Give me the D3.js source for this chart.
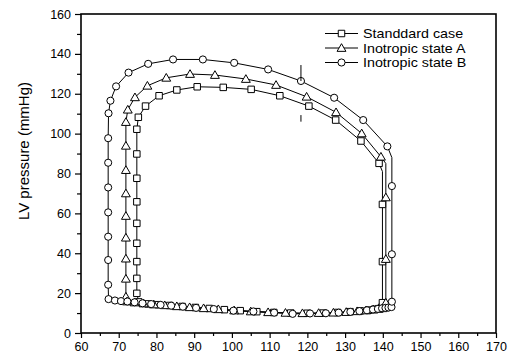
<!DOCTYPE html>
<html><head><meta charset="utf-8">
<script src="https://cdn.jsdelivr.net/npm/d3@7"></script>
<style>
body{margin:0;background:#fff;}
svg{display:block;font-family:"Liberation Sans",Arial,Helvetica,sans-serif;}
</style></head>
<body><svg id="c" width="513" height="363"></svg>
<script>
// ---- data ----
const seriesNames = ["Standdard case", "Inotropic state A", "Inotropic state B"];
const xTicks = [60,70,80,90,100,110,120,130,140,150,160,170];
const yTicks = [0,20,40,60,80,100,120,140,160];
const yLabel = "LV pressure (mmHg)";

// Standard case (squares); mark: 1 = marker drawn, 0 = path vertex only
const stdV = [74.8,75.3,77.8,80.5,83.5,86.8,90.3,94,98,102.2,106.6,111.1,115.6,120,124.2,128,131.3,134,136.2,137.8,138.9,139.6,139.9,139.9,139.9,139.9,139.9,139,134.2,127.5,120.4,112.7,105.1,97.7,90.8,85.4,80.7,77.1,75.2,74.8,74.8,74.8,74.8,74.8,74.8,74.8,74.8];
const stdP = [19.9,15.6,14.6,14.2,13.8,13.3,12.8,12.3,11.7,11.2,10.7,10.3,10,9.9,10,10.3,10.7,11.1,11.5,11.9,12.2,12.5,13.2,15.2,35.8,64.5,81,85.1,96.3,106.8,113.8,119,122.2,123.2,123.5,121.9,119,113.8,108.2,102.2,89.8,77.6,65.8,55,45,35.8,27.4];
const stdM = [1,1,1,1,1,1,1,1,1,1,1,1,1,1,1,1,1,1,1,1,1,1,1,1,1,1,0,1,1,1,1,1,1,1,1,1,1,1,1,1,1,1,1,1,1,1,1];

// Inotropic state A (triangles)
const aV = [71.9,72.2,74.2,76.6,79.3,82.2,85.4,88.8,92.5,96.4,100.6,105,109.6,114.2,118.7,123,126.9,130.3,133.2,135.6,137.5,138.9,139.9,140.6,140.8,140.8,140.8,140.8,139.5,134.4,127.6,119.8,111.7,103.7,95.5,88.9,82.6,77.6,74.3,72.4,71.9,71.9,71.9,71.9,71.9,71.9,71.9,71.9];
const aP = [18.2,15.8,15.3,14.8,14.3,13.9,13.4,12.9,12.4,11.9,11.3,10.8,10.4,10.1,9.9,10,10.2,10.5,10.9,11.3,11.7,12.1,12.4,12.8,15.2,37.1,68,85,88.4,100.1,110.7,118.5,124.4,127.4,129.4,129.9,128,124,118.2,112,105.8,93.9,81.7,70,58.7,47.8,37.3,27.2];
const aM = [1,1,1,1,1,1,1,1,1,1,1,1,1,1,1,1,1,1,1,1,1,1,1,1,1,1,1,0,1,1,1,1,1,1,1,1,1,1,1,1,1,1,1,1,1,1,1,1];

// Inotropic state B (circles)
const bV = [67.3,69,70.6,72.3,74.2,76.3,78.6,81.1,83.9,87,90.5,95.2,100.4,105.7,111.2,116.1,120.7,124.9,128.3,131.4,133.8,135.8,137.4,138.7,139.8,140.7,141.5,142.3,142.4,142.4,142.4,142.4,141.2,134.8,127.1,118.3,109.6,100.6,92.3,84.4,77.8,72.6,69.3,67.8,67.3,67.2,67.2,67.2,67.2,67.2,67.2,67.2];
const bP = [17,16.3,16,15.8,15.4,14.9,14.5,14.1,13.7,13.2,12.6,12,11.2,10.8,10.2,9.6,9.8,9.9,10.2,10.6,11,11.4,11.8,12.1,12.4,12.6,12.8,13,15.7,39.5,73.7,88,93.6,106.8,118,126.4,132.2,135.5,137.2,137.2,135,130.6,123.7,116.5,110.2,97.7,85.4,73,60.5,48.3,36.6,24.2];
const bM = [1,1,1,1,1,1,1,1,1,1,1,1,1,1,1,1,1,1,1,1,1,1,1,1,1,1,1,1,1,1,1,0,1,1,1,1,1,1,1,1,1,1,1,1,1,1,1,1,1,1,1,1];

// short vertical marks seen in the figure (volume, pressure from, pressure to)
const markV = [118.3, 118.3];
const markP0 = [126.4, 106.0];
const markP1 = [134.4, 109.3];

// ---- drawing ----
const svg = d3.select("#c");
const x = d3.scaleLinear().domain([60,170]).range([81,496]);
const y = d3.scaleLinear().domain([0,160]).range([333,14]);

const build = (V,P,M) => V.map((v,i)=>({v, p:P[i], m:M[i]}));
const series = [
  {name:seriesNames[0], shape:"square", pts:build(stdV,stdP,stdM)},
  {name:seriesNames[1], shape:"triangle", pts:build(aV,aP,aM)},
  {name:seriesNames[2], shape:"circle", pts:build(bV,bP,bM)}
];

// axes
const minorX = d3.range(65,170,10);
const minorY = d3.range(10,160,20);
svg.append("g").attr("transform","translate(0,333)")
  .call(d3.axisBottom(x).tickValues(xTicks).tickSize(5).tickPadding(4).tickFormat(d3.format("d")));
svg.append("g").attr("transform","translate(0,333)")
  .call(d3.axisBottom(x).tickValues(minorX).tickSize(3).tickFormat(""));
svg.append("g").attr("transform","translate(81,0)")
  .call(d3.axisLeft(y).tickValues(yTicks).tickSize(6).tickPadding(4).tickFormat(d3.format("d")));
svg.append("g").attr("transform","translate(81,0)")
  .call(d3.axisLeft(y).tickValues(minorY).tickSize(4).tickFormat(""));
svg.selectAll(".domain").remove();
svg.selectAll(".tick line").attr("stroke","#000").attr("stroke-width",1.2);
svg.selectAll(".tick text").attr("font-size","12.5px").attr("fill","#000")
  .attr("font-family","'Liberation Sans',Arial,sans-serif");

// frame
svg.append("rect").attr("x",x(60)).attr("y",y(160))
  .attr("width",x(170)-x(60)).attr("height",y(0)-y(160))
  .attr("fill","none").attr("stroke","#000").attr("stroke-width",1.6);

// y label
svg.append("text").attr("transform","translate(29,151) rotate(-90)")
  .attr("text-anchor","middle").attr("font-size","15px").attr("fill","#000").text(yLabel);

// markers
const sym = {
  square: d3.symbol().type(d3.symbolSquare).size(42),
  triangle: d3.symbol().type(d3.symbolTriangle).size(34),
  circle: d3.symbol().type(d3.symbolCircle).size(40)
};
const line = d3.line().x(d=>x(d.v)).y(d=>y(d.p));

series.forEach(s=>{
  svg.append("path").datum(s.pts.concat([s.pts[0]])).attr("d",line)
    .attr("fill","none").attr("stroke","#000").attr("stroke-width",1);
});
series.forEach(s=>{
  svg.append("g").selectAll("path").data(s.pts.filter(d=>d.m))
    .join("path").attr("d",sym[s.shape])
    .attr("transform",d=>`translate(${x(d.v)},${y(d.p)+(s.shape==="triangle"?0.8:0)})`)
    .attr("fill","#fff").attr("stroke","#000").attr("stroke-width",1);
});

// small vertical marks
svg.append("g").selectAll("line").data(markV).join("line")
  .attr("x1",d=>x(d)).attr("x2",d=>x(d))
  .attr("y1",(d,i)=>y(markP0[i])).attr("y2",(d,i)=>y(markP1[i]))
  .attr("stroke","#000").attr("stroke-width",1);

// legend
const lg = svg.append("g");
series.forEach((s,i)=>{
  const cy = 33.5 + i*14.5;
  lg.append("line").attr("x1",325).attr("x2",358).attr("y1",cy).attr("y2",cy)
    .attr("stroke","#000").attr("stroke-width",1);
  lg.append("path").attr("d",sym[s.shape]).attr("transform",`translate(341.5,${cy+(s.shape==="triangle"?0.8:0)})`)
    .attr("fill","#fff").attr("stroke","#000").attr("stroke-width",1);
  lg.append("text").attr("transform",`translate(363,${cy}) scale(1.1,1)`).attr("dy","0.35em")
    .attr("font-size","13px").attr("fill","#000").text(s.name);
});
</script></body></html>
